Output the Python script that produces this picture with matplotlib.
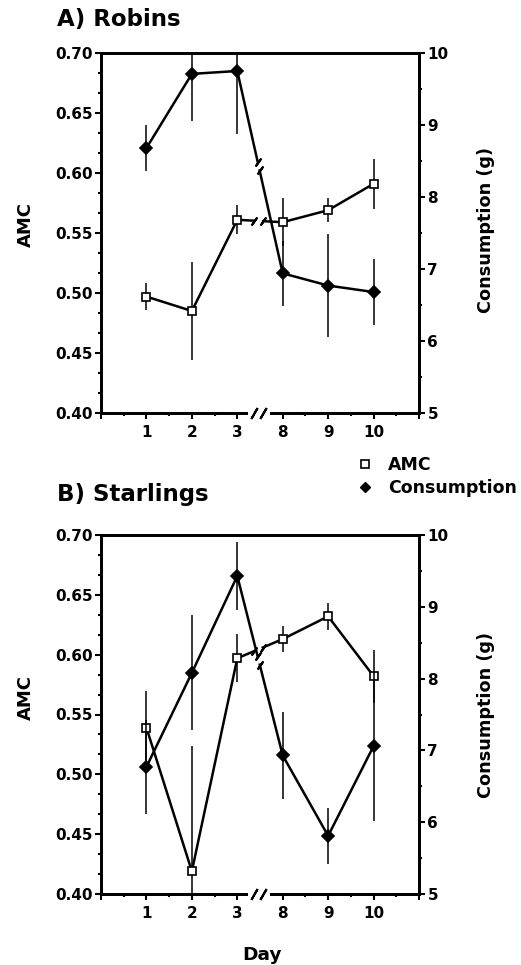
import matplotlib
matplotlib.use("Agg")
import matplotlib.pyplot as plt
import numpy as np
from matplotlib.lines import Line2D
from matplotlib.ticker import MultipleLocator, AutoMinorLocator, FixedLocator

plt.rcParams['font.family'] = ['DejaVu Sans']
plt.rcParams['font.weight'] = 'bold'

days = ["1", "2", "3", "8", "9", "10"]

robin_amc = [0.497, 0.485, 0.561, 0.559, 0.569, 0.591]
robin_amc_err = [0.011, 0.041, 0.012, 0.020, 0.010, 0.021]
robin_cons = [8.68, 9.71, 9.75, 6.94, 6.77, 6.68]
robin_cons_err = [0.32, 0.66, 0.87, 0.45, 0.72, 0.46]

starling_amc = [0.539, 0.419, 0.597, 0.613, 0.632, 0.582]
starling_amc_err = [0.031, 0.105, 0.020, 0.011, 0.011, 0.022]
starling_cons = [6.77, 8.08, 9.43, 6.93, 5.81, 7.06]
starling_cons_err = [0.66, 0.80, 0.47, 0.61, 0.39, 1.05]

W, H = 521, 965
BREAK_X = 3.47
LW = 1.8


def broken_segment(axis, x0, y0, x1, y1, gap_px=4.5):
    # draw the 3 -> 8 link with a small gap and two slashes
    t = (BREAK_X - x0) / (x1 - x0)
    tr = axis.transData
    p0 = tr.transform((x0, y0))
    p1 = tr.transform((x1, y1))
    pm = p0 + t * (p1 - p0)
    d = (p1 - p0) / np.hypot(*(p1 - p0))
    a = tr.inverted().transform(pm - d * gap_px)
    b = tr.inverted().transform(pm + d * gap_px)
    axis.plot([x0, a[0]], [y0, a[1]], color='k', lw=LW, zorder=3)
    axis.plot([b[0], x1], [b[1], y1], color='k', lw=LW, zorder=3)
    axis.plot([a[0], b[0]], [a[1], b[1]], ls='none', marker=(2, 2, -35),
              ms=7, mew=1.5, color='k', zorder=3)


def draw_series(axis, x, y, err, marker, face, ms):
    axis.errorbar(x, y, yerr=err, fmt='none', ecolor='k', elinewidth=1.1,
                  capsize=0, zorder=2)
    axis.plot(x[:3], y[:3], color='k', lw=LW, zorder=3)
    axis.plot(x[3:], y[3:], color='k', lw=LW, zorder=3)
    broken_segment(axis, x[2], y[2], x[3], y[3])
    axis.plot(x, y, ls='none', marker=marker, mfc=face, mec='k', mew=1.2,
              ms=ms, zorder=4)


def draw_panel(fig, top_px, bottom_px, amc, amc_err, cons, cons_err):
    rect = [101 / W, 1 - bottom_px / H, 318 / W, (bottom_px - top_px) / H]
    ax = fig.add_axes(rect)
    ax2 = ax.twinx()
    x = np.arange(1, len(days) + 1)

    ax.set_xlim(0, 7)
    ax.set_ylim(0.40, 0.70)
    ax2.set_ylim(5, 10)

    ax.xaxis.set_major_locator(FixedLocator(np.arange(0, 8)))
    ax.set_xticklabels([""] + days + [""])
    ax.xaxis.set_minor_locator(MultipleLocator(0.5))
    ax.yaxis.set_major_locator(MultipleLocator(0.05))
    ax.yaxis.set_minor_locator(AutoMinorLocator(3))
    ax.yaxis.set_major_formatter(matplotlib.ticker.FormatStrFormatter('%.2f'))
    ax2.yaxis.set_major_locator(MultipleLocator(1))
    ax2.yaxis.set_minor_locator(MultipleLocator(0.5))

    for a in (ax, ax2):
        for s in a.spines.values():
            s.set_linewidth(2.0)
        a.tick_params(which='major', direction='out', length=4.5, width=1.5,
                      labelsize=11, pad=1.5)
        a.tick_params(which='minor', direction='out', length=2, width=1.5)
    ax.tick_params(axis='x', which='major', pad=4)

    draw_series(ax, x, amc, amc_err, 's', 'white', 5.5)
    draw_series(ax2, x, cons, cons_err, 'D', 'k', 6)

    # break on the x axis
    xt = ax2.get_xaxis_transform()
    ax2.plot([BREAK_X - 0.16, BREAK_X + 0.16], [0, 0], transform=xt,
             color='white', lw=5, clip_on=False, zorder=5)
    ax2.plot([BREAK_X - 0.1, BREAK_X + 0.1], [0, 0], transform=xt,
             ls='none', marker=(2, 2, -30), ms=9, mew=1.5, color='k',
             clip_on=False, zorder=6)
    return ax, ax2


fig = plt.figure(figsize=(W / 100, H / 100), dpi=100)

draw_panel(fig, 53, 413, robin_amc, robin_amc_err, robin_cons, robin_cons_err)
draw_panel(fig, 535, 894, starling_amc, starling_amc_err,
           starling_cons, starling_cons_err)

fig.text(57 / W, 1 - 26 / H, "A) Robins", fontsize=16.5, va='baseline')
fig.text(57 / W, 1 - 501 / H, "B) Starlings", fontsize=16.5, va='baseline')

for yc in (225, 697):
    fig.text(26 / W, 1 - yc / H, "AMC", fontsize=13, rotation=90,
             ha='center', va='center')
for yc in (230, 715):
    fig.text(486 / W, 1 - yc / H, "Consumption (g)", fontsize=12.7,
             rotation=90, ha='center', va='center')
fig.text(262 / W, 1 - 960 / H, "Day", fontsize=13.3, ha='center',
         va='baseline')

handles = [Line2D([], [], ls='none', marker='s', mfc='white', mec='k',
                  mew=1.2, ms=5.5),
           Line2D([], [], ls='none', marker='D', color='k', ms=5)]
fig.legend(handles, ["AMC", "Consumption"], loc='upper left',
           bbox_to_anchor=(360 / W, 1 - 456 / H), frameon=False,
           fontsize=12.5, handlelength=0.6, handletextpad=1.0,
           labelspacing=0.3, borderpad=0, borderaxespad=0)

fig.savefig("out.png", dpi=100)
